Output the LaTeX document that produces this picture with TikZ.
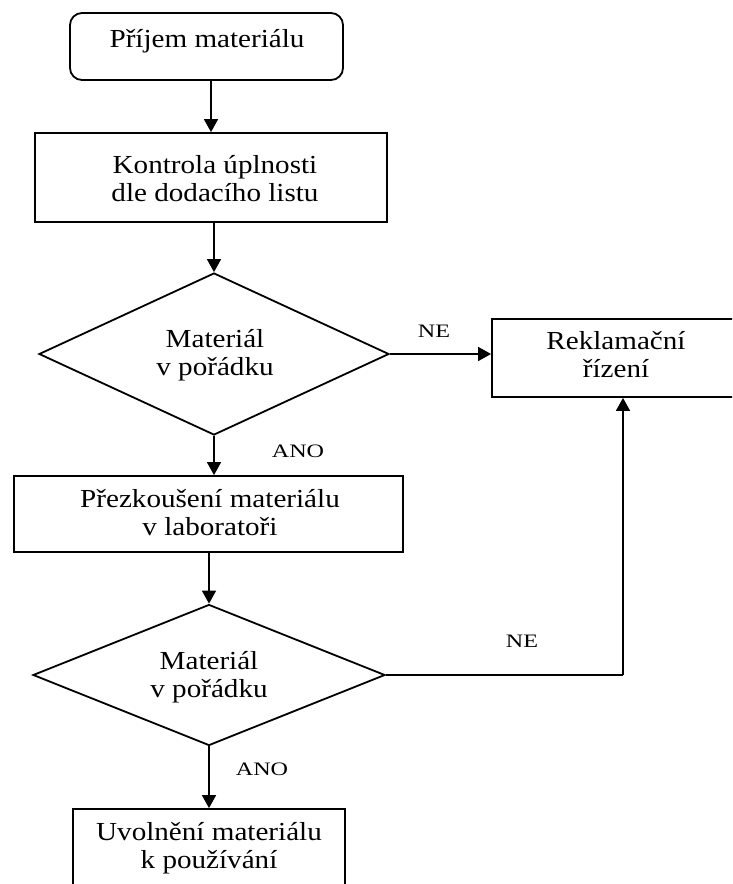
\documentclass[tikz,border=0pt]{standalone}
\usepackage{fontspec}
\setmainfont{Liberation Serif}
\usetikzlibrary{shapes.geometric,arrows.meta}
% centred text lines, stretched horizontally by #1
\newcommand\flowtext[2]{\scalebox{#1}[1]{\begin{tabular}[t]{@{}c@{}}#2\end{tabular}}}
\begin{document}
\begin{tikzpicture}[x=1pt,y=-1pt,
  outline/.style={draw, line width=1.8pt, inner sep=0pt},
  procbox/.style={outline, rectangle},
  decision/.style={outline, diamond},
  body/.style={anchor=base, inner sep=0pt, font=\fontsize{26}{28.5}\selectfont},
  answer/.style={anchor=base, inner sep=0pt, font=\fontsize{19}{22}\selectfont},
  flow/.style={line width=1.6pt, -{Triangle[length=13pt,width=14pt]}},
  plain/.style={line width=1.6pt}]
\useasboundingbox (0,0) rectangle (732,884);
\fill[white] (0,0) rectangle (732,884);
\clip (0,0) rectangle (732,884);

% shapes
\node[procbox, rounded corners=12pt, minimum width=273pt, minimum height=67pt] (b1) at (206.5,46.5) {};
\node[procbox, minimum width=352pt, minimum height=89pt] (b2) at (211,177.5) {};
\node[decision, minimum width=350pt, minimum height=162pt] (d1) at (214,354) {};
\node[procbox, minimum width=262pt, minimum height=78pt] (rek) at (623,358) {};
\node[procbox, minimum width=389pt, minimum height=76pt] (b3) at (208.5,514) {};
\node[decision, minimum width=352pt, minimum height=141pt] (d2) at (209,675) {};
\node[procbox, minimum width=272pt, minimum height=92pt] (b4) at (209,855) {};

% texts
\node[body] (t1) at (207,47) {\flowtext{1.12}{Příjem materiálu}};
\node[body] (t2) at (215,173) {\flowtext{1.12}{Kontrola úplnosti\\dle dodacího listu}};
\node[body] (t3) at (215,347) {\flowtext{1.12}{Materiál\\v pořádku}};
\node[body] (t4) at (616,349) {\flowtext{1.12}{Reklamační\\řízení}};
\node[body] (t5) at (210,507) {\flowtext{1.12}{Přezkoušení materiálu\\v laboratoři}};
\node[body] (t6) at (209,669) {\flowtext{1.12}{Materiál\\v pořádku}};
\node[body] (t7) at (209,840) {\flowtext{1.12}{Uvolnění materiálu\\k používání}};

% answer labels
\node[answer] (ne1) at (434,337) {\flowtext{1.27}{NE}};
\node[answer] (ano1) at (298,457) {\flowtext{1.27}{ANO}};
\node[answer] (ne2) at (522,647) {\flowtext{1.27}{NE}};
\node[answer] (ano2) at (262,775) {\flowtext{1.27}{ANO}};

% connectors
\draw[flow] (b2.north |- b1.south) -- (b2.north);
\draw[flow] (d1.north |- b2.south) -- (d1.north);
\draw[flow] (d1.east) -- (d1.east -| rek.west);
\draw[flow] (d1.south) -- (d1.south |- b3.north);
\draw[flow] (d2.north |- b3.south) -- (d2.north);
\draw[plain] (d2.east) -- (rek.south |- d2.east);
\draw[flow] (rek.south |- d2.east) -- (rek.south);
\draw[flow] (d2.south) -- (b4.north);
\end{tikzpicture}
\end{document}
